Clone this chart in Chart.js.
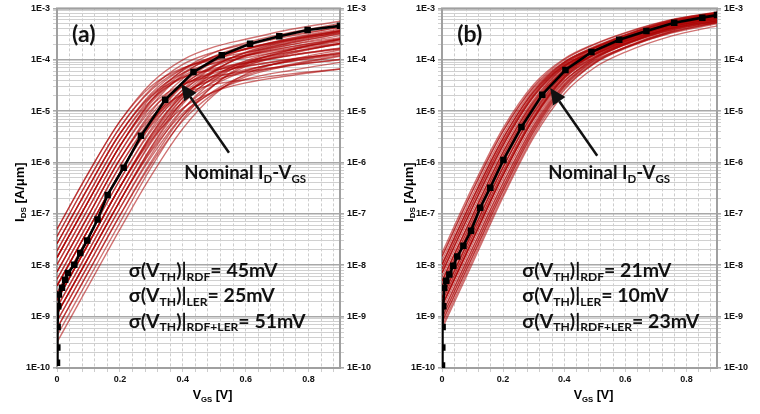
<!DOCTYPE html>
<html>
<head>
<meta charset="utf-8">
<script src="https://cdn.jsdelivr.net/npm/chart.js@4.4.1/dist/chart.umd.min.js"></script>
<style>
html,body{margin:0;padding:0;background:#fff;}
#wrap{display:flex;width:760px;height:414px;}
.panel{width:380px;height:414px;position:relative;}
</style>
</head>
<body>
<div id="wrap">
  <div class="panel"><canvas id="chartA" width="380" height="414"></canvas></div>
  <div class="panel"><canvas id="chartB" width="380" height="414"></canvas></div>
</div>
<script>
/* =========================
   Data
   ========================= */
// V_GS points shared by every red Monte-Carlo curve [V]
const vgsGrid = [0, 0.1, 0.2, 0.3, 0.4, 0.5, 0.6, 0.75, 0.9];

// (a) red curves, log10(I_DS [A/um]) at vgsGrid
const redA = [
  [-7.30,-6.20,-5.20,-4.45,-4.00,-3.75,-3.60,-3.40,-3.25],
  [-7.30,-6.20,-5.20,-4.51,-4.16,-4.01,-3.92,-3.77,-3.65],
  [-7.44,-6.34,-5.32,-4.56,-4.09,-3.85,-3.70,-3.51,-3.37],
  [-7.44,-6.34,-5.32,-4.59,-4.17,-3.98,-3.86,-3.70,-3.57],
  [-7.58,-6.48,-5.44,-4.65,-4.18,-3.94,-3.80,-3.61,-3.48],
  [-7.58,-6.48,-5.44,-4.71,-4.34,-4.20,-4.12,-3.98,-3.88],
  [-7.58,-6.48,-5.44,-4.68,-4.26,-4.07,-3.96,-3.80,-3.68],
  [-7.72,-6.62,-5.56,-4.72,-4.21,-3.94,-3.78,-3.59,-3.44],
  [-7.72,-6.62,-5.56,-4.78,-4.35,-4.17,-4.06,-3.91,-3.79],
  [-7.85,-6.75,-5.68,-4.78,-4.20,-3.86,-3.67,-3.46,-3.30],
  [-7.85,-6.75,-5.68,-4.80,-4.26,-3.96,-3.79,-3.60,-3.45],
  [-7.85,-6.75,-5.68,-4.83,-4.32,-4.06,-3.91,-3.74,-3.60],
  [-7.85,-6.75,-5.68,-4.89,-4.48,-4.32,-4.23,-4.10,-4.00],
  [-7.99,-6.89,-5.81,-4.90,-4.29,-3.93,-3.73,-3.53,-3.37],
  [-7.99,-6.89,-5.81,-4.97,-4.49,-4.26,-4.13,-3.99,-3.87],
  [-8.13,-7.03,-5.94,-5.01,-4.37,-4.00,-3.79,-3.58,-3.43],
  [-8.13,-7.03,-5.94,-5.06,-4.51,-4.22,-4.07,-3.90,-3.78],
  [-8.13,-7.03,-5.94,-5.12,-4.67,-4.48,-4.39,-4.27,-4.18],
  [-8.27,-7.17,-6.07,-5.14,-4.49,-4.13,-3.93,-3.74,-3.59],
  [-8.27,-7.17,-6.07,-5.20,-4.65,-4.39,-4.25,-4.11,-3.99],
  [-8.40,-7.30,-6.20,-5.21,-4.47,-4.03,-3.79,-3.57,-3.40],
  [-8.40,-7.30,-6.20,-5.22,-4.51,-4.10,-3.87,-3.66,-3.50],
  [-8.40,-7.30,-6.20,-5.25,-4.59,-4.23,-4.03,-3.84,-3.70],
  [-8.40,-7.30,-6.20,-5.28,-4.67,-4.36,-4.19,-4.03,-3.90],
  [-8.54,-7.44,-6.34,-5.34,-4.58,-4.12,-3.86,-3.63,-3.47],
  [-8.54,-7.44,-6.34,-5.38,-4.70,-4.31,-4.10,-3.91,-3.77],
  [-8.68,-7.58,-6.48,-5.45,-4.64,-4.13,-3.85,-3.61,-3.43],
  [-8.68,-7.58,-6.48,-5.46,-4.68,-4.20,-3.93,-3.70,-3.53],
  [-8.68,-7.58,-6.48,-5.49,-4.74,-4.30,-4.05,-3.84,-3.68],
  [-8.68,-7.58,-6.48,-5.52,-4.82,-4.43,-4.21,-4.02,-3.88],
  [-8.68,-7.58,-6.48,-5.56,-4.94,-4.62,-4.45,-4.30,-4.18],
  [-8.82,-7.72,-6.62,-5.58,-4.74,-4.22,-3.92,-3.67,-3.49],
  [-8.82,-7.72,-6.62,-5.61,-4.82,-4.35,-4.08,-3.86,-3.69],
  [-8.95,-7.85,-6.75,-5.69,-4.80,-4.23,-3.90,-3.65,-3.45],
  [-8.95,-7.85,-6.75,-5.71,-4.86,-4.33,-4.02,-3.78,-3.60],
  [-8.95,-7.85,-6.75,-5.75,-4.96,-4.49,-4.22,-4.01,-3.85],
  [-8.95,-7.85,-6.75,-5.78,-5.04,-4.62,-4.38,-4.20,-4.05],
  [-9.09,-7.99,-6.89,-5.84,-4.97,-4.40,-4.06,-3.80,-3.62],
  [-9.09,-7.99,-6.89,-5.89,-5.09,-4.60,-4.30,-4.08,-3.92],
  [-9.23,-8.13,-7.03,-5.98,-5.09,-4.49,-4.13,-3.87,-3.68],
  [-9.23,-8.13,-7.03,-6.02,-5.19,-4.65,-4.33,-4.10,-3.93],
  [-9.37,-8.27,-7.17,-6.09,-5.16,-4.49,-4.09,-3.80,-3.60],
  [-9.50,-8.40,-7.30,-6.25,-5.34,-4.68,-4.28,-3.99,-3.81]
];
// (a) nominal I_D-V_GS (black squares)
const nomA_vgs = [0,0.001,0.002,0.004,0.006,0.016,0.026,0.035,0.055,0.074,0.096,0.129,0.161,0.212,0.267,0.344,0.434,0.524,0.614,0.707,0.797,0.9];
const nomA_log = [-9.9,-9.6,-9.2,-8.8,-8.57,-8.44,-8.28,-8.15,-7.99,-7.76,-7.52,-7.11,-6.63,-6.10,-5.48,-4.78,-4.24,-3.91,-3.69,-3.54,-3.42,-3.34];

// (b) red curves, log10(I_DS [A/um]) at vgsGrid
const redB = [
  [-7.76,-6.48,-5.33,-4.48,-3.98,-3.69,-3.47,-3.22,-3.08],
  [-7.83,-6.55,-5.39,-4.52,-4.00,-3.70,-3.48,-3.23,-3.09],
  [-7.83,-6.55,-5.39,-4.54,-4.04,-3.77,-3.56,-3.32,-3.19],
  [-7.91,-6.63,-5.46,-4.58,-4.05,-3.75,-3.54,-3.29,-3.15],
  [-7.99,-6.71,-5.53,-4.61,-4.05,-3.74,-3.51,-3.25,-3.10],
  [-7.99,-6.71,-5.53,-4.62,-4.07,-3.77,-3.55,-3.30,-3.15],
  [-7.99,-6.71,-5.53,-4.63,-4.11,-3.84,-3.63,-3.39,-3.25],
  [-8.07,-6.79,-5.60,-4.66,-4.08,-3.76,-3.52,-3.26,-3.11],
  [-8.07,-6.79,-5.60,-4.68,-4.12,-3.83,-3.60,-3.35,-3.21],
  [-8.15,-6.87,-5.66,-4.70,-4.10,-3.77,-3.53,-3.26,-3.11],
  [-8.15,-6.87,-5.66,-4.71,-4.12,-3.80,-3.57,-3.31,-3.16],
  [-8.15,-6.87,-5.66,-4.72,-4.14,-3.84,-3.61,-3.35,-3.21],
  [-8.23,-6.95,-5.73,-4.77,-4.15,-3.82,-3.59,-3.32,-3.17],
  [-8.31,-7.03,-5.80,-4.80,-4.14,-3.77,-3.52,-3.23,-3.07],
  [-8.31,-7.03,-5.80,-4.82,-4.18,-3.83,-3.60,-3.33,-3.17],
  [-8.31,-7.03,-5.80,-4.83,-4.22,-3.90,-3.68,-3.42,-3.27],
  [-8.39,-7.11,-5.87,-4.86,-4.19,-3.82,-3.57,-3.29,-3.13],
  [-8.39,-7.11,-5.87,-4.88,-4.23,-3.89,-3.65,-3.38,-3.23],
  [-8.47,-7.19,-5.94,-4.90,-4.20,-3.80,-3.54,-3.25,-3.08],
  [-8.47,-7.19,-5.94,-4.91,-4.22,-3.83,-3.58,-3.30,-3.13],
  [-8.47,-7.19,-5.94,-4.93,-4.26,-3.90,-3.66,-3.39,-3.23],
  [-8.55,-7.27,-6.02,-4.98,-4.28,-3.88,-3.64,-3.36,-3.19],
  [-8.63,-7.35,-6.09,-5.02,-4.27,-3.84,-3.57,-3.27,-3.09],
  [-8.63,-7.35,-6.09,-5.03,-4.29,-3.87,-3.61,-3.32,-3.14],
  [-8.63,-7.35,-6.09,-5.05,-4.33,-3.94,-3.69,-3.41,-3.24],
  [-8.71,-7.43,-6.17,-5.09,-4.32,-3.89,-3.63,-3.33,-3.15],
  [-8.71,-7.43,-6.17,-5.11,-4.36,-3.96,-3.71,-3.42,-3.25],
  [-8.79,-7.51,-6.24,-5.13,-4.33,-3.88,-3.60,-3.29,-3.10],
  [-8.79,-7.51,-6.24,-5.14,-4.35,-3.91,-3.64,-3.34,-3.15],
  [-8.79,-7.51,-6.24,-5.15,-4.37,-3.94,-3.68,-3.39,-3.20],
  [-8.79,-7.51,-6.24,-5.16,-4.41,-4.01,-3.76,-3.48,-3.30],
  [-8.87,-7.59,-6.32,-5.22,-4.42,-3.97,-3.70,-3.40,-3.21],
  [-8.95,-7.67,-6.40,-5.27,-4.44,-3.96,-3.67,-3.36,-3.17],
  [-8.95,-7.67,-6.40,-5.29,-4.48,-4.03,-3.75,-3.45,-3.27],
  [-9.03,-7.75,-6.48,-5.33,-4.48,-3.98,-3.69,-3.37,-3.18],
  [-9.03,-7.75,-6.48,-5.35,-4.52,-4.05,-3.77,-3.46,-3.28],
  [-9.11,-7.83,-6.55,-5.39,-4.52,-4.00,-3.70,-3.38,-3.18],
  [-9.11,-7.83,-6.55,-5.41,-4.56,-4.07,-3.78,-3.47,-3.28],
  [-9.18,-7.90,-6.62,-5.46,-4.59,-4.06,-3.76,-3.44,-3.24],
  [-9.24,-7.96,-6.67,-5.51,-4.66,-4.15,-3.85,-3.54,-3.34]
];
// (b) nominal I_D-V_GS
const nomB_vgs = [0,0.001,0.002,0.004,0.007,0.014,0.024,0.037,0.05,0.07,0.095,0.125,0.158,0.201,0.26,0.328,0.404,0.489,0.58,0.669,0.76,0.852,0.9];
const nomB_log = [-9.95,-9.6,-9.2,-8.8,-8.44,-8.30,-8.18,-8.01,-7.83,-7.62,-7.33,-6.88,-6.49,-5.95,-5.31,-4.68,-4.20,-3.85,-3.61,-3.44,-3.28,-3.18,-3.13];

// axes
const yDecades = [-10,-9,-8,-7,-6,-5,-4,-3];
const xLabelTicks = [0, 0.2, 0.4, 0.6, 0.8];
const xGridStep = 0.04;

// annotation texts
const sigmaNames = ['RDF', 'LER', 'RDF+LER'];
const sigmaA = ['45mV', '25mV', '51mV'];
const sigmaB = ['21mV', '10mV', '23mV'];

/* =========================
   Helpers
   ========================= */
const FONT_TXT = 'Lato, "Open Sans", sans-serif';
const FONT_AX  = '"Liberation Sans", Arial, sans-serif';

const yGridTicks = [];
yDecades.slice(0,-1).forEach(e=>{ for(let k=1;k<=9;k++) yGridTicks.push(k*Math.pow(10,e)); });
yGridTicks.push(Math.pow(10, yDecades[yDecades.length-1]));

const xGridTicks = [];
for(let i=0;i*xGridStep<0.9-1e-9;i++) xGridTicks.push(+(i*xGridStep).toFixed(2));

const isDecade = v => { const e=Math.log10(v); return Math.abs(e-Math.round(e))<1e-6; };

function runsWidth(ctx, runs, size, family){
  let w=0;
  runs.forEach(([t,sub])=>{ ctx.font=`bold ${sub?size*0.62:size}px ${family}`; w+=ctx.measureText(t).width; });
  return w;
}
function drawRuns(ctx, runs, x, yMid, size, family){
  const base = yMid + size*0.35;
  let cx = x;
  ctx.textAlign='left'; ctx.textBaseline='alphabetic';
  runs.forEach(([t,sub])=>{
    ctx.font=`bold ${sub?size*0.62:size}px ${family}`;
    ctx.fillText(t, cx, sub ? base+size*0.2 : base);
    cx += ctx.measureText(t).width;
  });
}

const decoPlugin = {
  id:'deco',
  beforeDatasetsDraw(chart){
    const {ctx, chartArea:a} = chart;
    ctx.save();
    ctx.strokeStyle='#a0a0a0'; ctx.lineWidth=2;
    ctx.strokeRect(a.left, a.top, a.right-a.left, a.bottom-a.top);
    ctx.restore();
  },
  afterDatasetsDraw(chart, args, o){
    const {ctx} = chart;
    const sx = chart.scales.x, sy = chart.scales.y;
    const px = v => sx.getPixelForValue(v), py = l => sy.getPixelForValue(Math.pow(10,l));
    ctx.save();
    ctx.fillStyle='#111'; ctx.strokeStyle='#111';

    // panel label
    drawRuns(ctx, [[o.label,0]], px(o.labelAt[0]), py(o.labelAt[1]), 23, FONT_TXT);

    // arrow to the nominal curve
    const [t, h] = o.arrow;
    const x0=px(t[0]), y0=py(t[1]), x1=px(h[0]), y1=py(h[1]);
    const ang=Math.atan2(y1-y0, x1-x0), L=16, W=7.5;
    const bx=x1-L*Math.cos(ang), by=y1-L*Math.sin(ang);
    ctx.lineWidth=2.5;
    ctx.beginPath(); ctx.moveTo(x0,y0); ctx.lineTo(bx,by); ctx.stroke();
    ctx.beginPath();
    ctx.moveTo(x1,y1);
    ctx.lineTo(bx+W*Math.sin(ang), by-W*Math.cos(ang));
    ctx.lineTo(bx-W*Math.sin(ang), by+W*Math.cos(ang));
    ctx.closePath(); ctx.fill();

    drawRuns(ctx, [['Nominal I',0],['D',1],['-V',0],['GS',1]], px(o.nomTextAt[0]), py(o.nomTextAt[1]), 18.5, FONT_TXT);

    o.sigma.forEach((val,i)=>{
      drawRuns(ctx, [['σ(V',0],['TH',1],[')|',0],[sigmaNames[i],1],['= '+val,0]],
        px(o.sigmaAt[0]), py(o.sigmaAt[1][i]), 19.5, FONT_TXT);
    });
    ctx.restore();
  },
  afterDraw(chart, args, o){
    const {ctx, chartArea:a} = chart;
    ctx.save();
    ctx.fillStyle='#000';
    // y title (rotated)
    const yr=[['I',0],['DS',1],[' [A/μm]',0]];
    const wy=runsWidth(ctx, yr, 13, FONT_AX);
    ctx.translate(o.yTitleX, (a.top+a.bottom)/2+4);
    ctx.rotate(-Math.PI/2);
    drawRuns(ctx, yr, -wy/2, 0, 13, FONT_AX);
    ctx.restore();
    // x title
    ctx.save();
    ctx.fillStyle='#000';
    const xr=[['V',0],['GS',1],[' [V]',0]];
    const wx=runsWidth(ctx, xr, 12.5, FONT_AX);
    drawRuns(ctx, xr, (a.left+a.right)/2+14-wx/2, 395, 12.5, FONT_AX);
    ctx.restore();
  }
};

function yAxis(position, width){
  return {
    type:'logarithmic', position, min:1e-10, max:1e-3,
    afterBuildTicks: s=>{ s.ticks = yGridTicks.map(v=>({value:v})); },
    afterFit: s=>{ s.width = width; },
    ticks:{
      autoSkip:false, padding:3, color:'#111',
      font:{family:FONT_AX, size:9, weight:'bold'},
      callback: v => isDecade(v) ? '1E' + Math.round(Math.log10(v)) : ''
    },
    grid:{
      drawOnChartArea: position==='left', tickLength:4,
      color: c => isDecade(c.tick.value) ? '#a8a8a8' : '#d0d0d0',
      lineWidth: c => isDecade(c.tick.value) ? 1.6 : 1
    },
    border:{display:false}
  };
}

/* =========================
   Build one panel
   ========================= */
function makePanel(p){
  const datasets = [{
    data: p.nomV.map((x,i)=>({x, y:Math.pow(10,p.nomL[i])})),
    borderColor:'#000', backgroundColor:'#000', borderWidth:2.6,
    pointStyle:'rect', pointRadius:4.6, pointBorderWidth:0, order:0
  }];
  p.red.forEach(row=>{
    datasets.push({
      data: row.map((v,i)=>({x:vgsGrid[i], y:Math.pow(10,v)})),
      borderColor:'rgba(172,0,0,0.55)', borderWidth:1.4,
      pointRadius:0, cubicInterpolationMode:'monotone', order:1
    });
  });

  new Chart(document.getElementById(p.id), {
    type:'line',
    data:{datasets},
    plugins:[decoPlugin],
    options:{
      responsive:false, animation:false,
      layout:{padding:{top:8, left:0, right:0, bottom:0}},
      plugins:{ legend:{display:false}, tooltip:{enabled:false}, deco:p.deco },
      scales:{
        x:{
          type:'linear', min:0, max:0.9,
          afterBuildTicks: s=>{ s.ticks = xGridTicks.map(v=>({value:v})); },
          afterFit: s=>{ s.height = 46; },
          ticks:{
            autoSkip:false, maxRotation:0, padding:2, color:'#111',
            font:{family:FONT_AX, size:9, weight:'bold'},
            callback: v => xLabelTicks.some(t=>Math.abs(t-v)<1e-9) ? (v===0?'0':v.toFixed(1)) : ''
          },
          grid:{ color:'#cdcdcd', tickLength:4 },
          border:{display:false, dash:[3,2]}
        },
        y: yAxis('left', p.yLeftW),
        y2: yAxis('right', p.yRightW)
      }
    }
  });
}

makePanel({
  id:'chartA', red:redA, nomV:nomA_vgs, nomL:nomA_log, yLeftW:57, yRightW:40,
  deco:{ yTitleX:19, label:'(a)', labelAt:[0.048,-3.5], nomTextAt:[0.405,-6.2],
         arrow:[[0.547,-5.81],[0.395,-4.47]], sigma:sigmaA, sigmaAt:[0.228,[-8.09,-8.59,-9.08]] }
});
makePanel({
  id:'chartB', red:redB, nomV:nomB_vgs, nomL:nomB_log, yLeftW:62, yRightW:43,
  deco:{ yTitleX:28, label:'(b)', labelAt:[0.05,-3.5], nomTextAt:[0.348,-6.2],
         arrow:[[0.508,-5.87],[0.354,-4.55]], sigma:sigmaB, sigmaAt:[0.263,[-8.09,-8.59,-9.08]] }
});
</script>
</body>
</html>
